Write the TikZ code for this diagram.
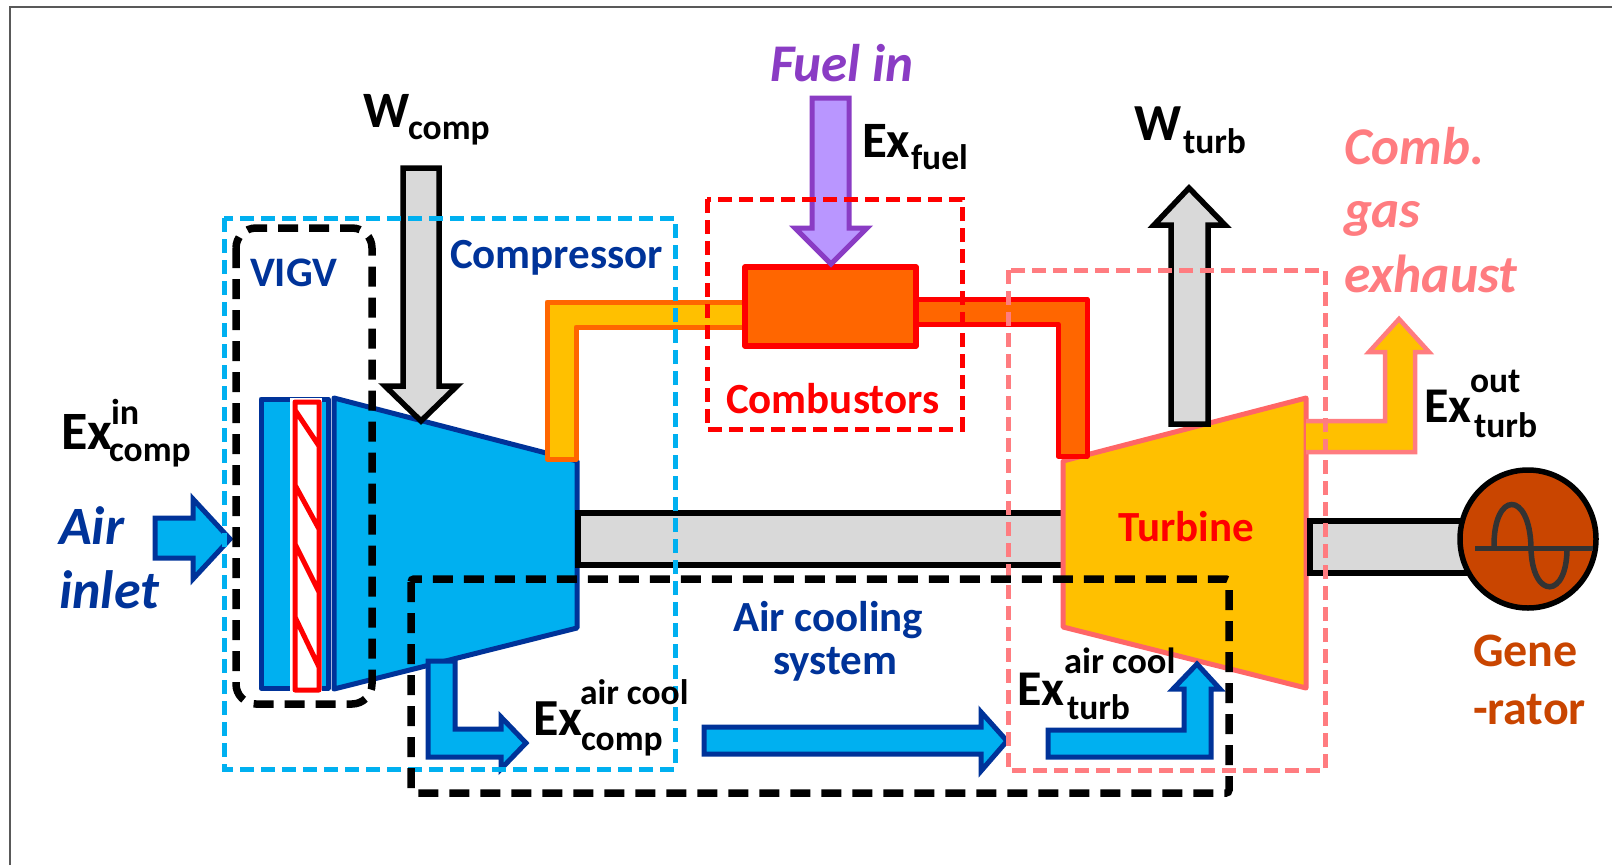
\documentclass[tikz,border=0pt]{standalone}
\usepackage{fontspec}
\setmainfont{Carlito}
\definecolor{cblue}{HTML}{00B0F0}
\definecolor{dblue}{HTML}{003399}
\definecolor{cgray}{HTML}{D9D9D9}
\definecolor{cyel}{HTML}{FFC000}
\definecolor{corg}{HTML}{FF6600}
\definecolor{cpink}{HTML}{FF7C80}
\definecolor{cturb}{HTML}{FF6666}
\definecolor{cpurp}{HTML}{8A3CC4}
\definecolor{lpurp}{HTML}{B996FF}
\definecolor{cgen}{HTML}{C94500}
\newcommand{\fs}[1]{\fontsize{#1}{#1}\selectfont}
% #1 size, #2 sup, #3 sup size, #4 sup x, #5 sup rise, #6 sub, #7 sub x, #8 sub drop
\newcommand{\exlabel}[8]{\fs{#1}\rlap{Ex}\rlap{\kern#4pt\raisebox{#5pt}{\fs{#3}#2}}\kern#7pt\raisebox{-#8pt}{\fs{35.5}#6}}
\tikzset{
  lab/.style={inner sep=0pt,outer sep=0pt,anchor=base west,font=\bfseries},
  blk/.style={lab,text=black},
  itlab/.style={lab,font=\bfseries\itshape},
  bluearrow/.style={draw=dblue,fill=cblue,line width=5pt,miter limit=10},
  grayarrow/.style={draw=black,fill=cgray,line width=5.5pt,miter limit=10},
  dash blue/.style={draw=cblue,line width=5pt,dash pattern=on 14pt off 7pt},
  dash red/.style={draw=red,line width=5pt,dash pattern=on 14pt off 7pt},
  dash pink/.style={draw=cpink,line width=5pt,dash pattern=on 14pt off 7pt},
  dash black/.style={draw=black,line width=7.5pt,dash pattern=on 20pt off 11pt,line cap=butt},
}
\begin{document}
\begin{tikzpicture}[x=1pt,y=-1pt,line join=miter]
\useasboundingbox (0,0) rectangle (1612,865);
% page frame
\draw[draw=black!65,line width=1.2pt] (10,865) -- (10,7) -- (1612,7);

% VIGV housing
\draw[bluearrow,line join=round] (261,399) rectangle (328,688);
% VIGV blades
\fill[white] (290,398) rectangle (322,692);
\draw[draw=red,line width=5pt,line join=round] (295,402) rectangle (319,690)
  (295,410) -- (319,446) (295,485) -- (319,529) (295,544) -- (319,592) (295,617) -- (319,667);
% compressor
\draw[draw=dblue,fill=cblue,line width=5pt,line join=round] (334,398) -- (577,461) -- (577,628) -- (334,689) -- cycle;
% shaft compressor-turbine
\draw[draw=black,fill=cgray,line width=5.5pt] (578,513) rectangle (1064,565);
% turbine
\draw[draw=cturb,fill=cyel,line width=5pt,line join=round] (1063,461) -- (1306,398) -- (1306,688) -- (1063,627) -- cycle;
% shaft turbine-generator
\draw[draw=black,fill=cgray,line width=5.5pt] (1310,521) rectangle (1470,573);

% air pipe compressor -> combustor
\draw[draw=corg,fill=cyel,line width=5pt,line join=round] (746,327) -- (576,327) -- (576,459) -- (547,459) -- (547,302) -- (746,302) -- cycle;
% hot pipe combustor -> turbine
\draw[draw=red,fill=corg,line width=5pt,line join=round] (916,324) -- (1058,324) -- (1058,456) -- (1087,456) -- (1087,299) -- (916,299) -- cycle;
% combustor
\draw[draw=red,fill=corg,line width=5.5pt,line join=round] (745,267) rectangle (916,346);

% work arrows
\draw[grayarrow] (403,168) -- (439,168) -- (439,386) -- (457,386) -- (421,421) -- (385,386) -- (403,386) -- cycle;
\draw[grayarrow] (1171,424) -- (1208,424) -- (1208,225) -- (1225,225) -- (1189,188) -- (1154,225) -- (1171,225) -- cycle;
% fuel arrow
\draw[draw=cpurp,fill=lpurp,line width=5pt,miter limit=10] (812,98) -- (849,98) -- (849,228) -- (867,228) -- (831,264) -- (795,228) -- (812,228) -- cycle;
% exhaust arrow
\draw[draw=cpink,fill=cyel,line width=4.5pt,miter limit=10] (1306,421) -- (1385,421) -- (1385,352) -- (1369,352) -- (1399,319) -- (1429,352) -- (1415,352) -- (1415,452) -- (1306,452);
% air inlet arrow
\draw[bluearrow] (155,518) -- (193,518) -- (193,499) -- (230,539) -- (193,579) -- (193,558) -- (155,558) -- cycle;
% cooling arrows
\draw[bluearrow] (428,661) -- (455,661) -- (455,729) -- (501,729) -- (501,717) -- (526,743) -- (501,769) -- (501,757) -- (428,757) -- cycle;
\draw[bluearrow] (704,727) -- (981,727) -- (981,712) -- (1007,741) -- (981,771) -- (981,754) -- (704,754) -- cycle;
\draw[bluearrow] (1048,757) -- (1048,730) -- (1184,730) -- (1184,689) -- (1173,689) -- (1197,664) -- (1220,689) -- (1211,689) -- (1211,757) -- cycle;

% generator
\draw[draw=black,fill=cgen,line width=5.5pt] (1528,539) ellipse [x radius=68, y radius=69];
\draw[draw=black!80,line width=5pt] (1475,548) -- (1593,548);
\draw[draw=black!80,line width=5.5pt] (1494,548) .. controls (1493,490) and (1530,490) .. (1531,548)
  .. controls (1532,600) and (1568,600) .. (1567,546);

% dashed groups
\draw[dash blue] (224,218) rectangle (675,769);
\draw[dash black,rounded corners=20pt] (236,228) rectangle (372,704);
\draw[dash red] (707,199) rectangle (962,429);
\draw[dash pink] (1008,270) rectangle (1325,770);
\draw[dash black,rounded corners=3pt] (411,579) rectangle (1229,793);

% labels
\node[blk] (wcomp) at (363,127) {\fs{51}\rlap{W}\kern45pt\raisebox{-12pt}{\fs{35.5}comp}};
\node[blk] (wturb) at (1134,140) {\fs{52}\rlap{W}\kern49pt\raisebox{-13pt}{\fs{35.5}turb}};
\node[blk] (exfuel) at (862,157) {\fs{51}\rlap{Ex}\kern49pt\raisebox{-12pt}{\fs{35.5}fuel}};
\node[blk] (excompin) at (61,449) {\exlabel{54}{in}{36}{50}{25}{comp}{48}{12}};
\node[blk] (exturbout) at (1424,422) {\exlabel{50}{out}{35.5}{46}{30}{turb}{50}{15}};
\node[blk] (excompac) at (533,735) {\exlabel{52}{air cool}{35.5}{47}{31}{comp}{48}{15}};
\node[blk] (exturbac) at (1017,705) {\exlabel{50}{air cool}{36.5}{47}{32}{turb}{50}{14}};

\node[itlab,text=dblue] (airin) at (59,544) {\fs{54}Air};
\node[itlab,text=dblue] (inlet) at (59,608) {\fs{54}inlet};
\node[itlab,text=cpurp] (fuelin) at (770,81) {\fs{53}Fuel in};
\node[itlab,text=cpink] (comb) at (1344,164) {\fs{53}Comb.};
\node[itlab,text=cpink] (gas) at (1344,227) {\fs{53}gas};
\node[itlab,text=cpink] (exh) at (1344,292) {\fs{53.5}exhaust};

\node[lab,text=dblue] (vigv) at (250,286) {\fs{42}VIGV};
\node[lab,text=dblue] (compr) at (450,268) {\fs{43}Compressor};
\node[lab,text=red] (combu) at (726,413) {\fs{43}Combustors};
\node[lab,text=red] (turbi) at (1118,541) {\fs{43}Turbine};
\node[lab,text=dblue] (acs1) at (733,631) {\fs{43}Air cooling};
\node[lab,text=dblue] (acs2) at (773,674) {\fs{43}system};
\node[lab,text=cgen] (gene) at (1473,666) {\fs{48}Gene};
\node[lab,text=cgen] (rator) at (1473,724) {\fs{48}-rator};
\end{tikzpicture}
\end{document}
